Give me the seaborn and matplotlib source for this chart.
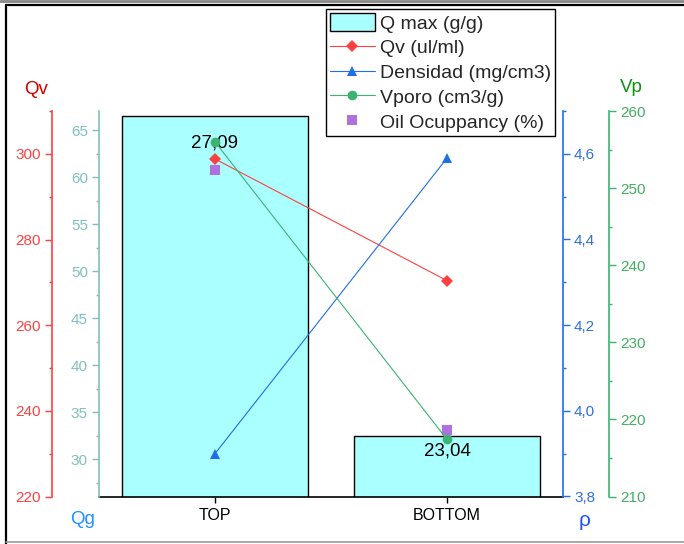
import numpy as np
import seaborn as sns
import matplotlib.pyplot as plt
from matplotlib.lines import Line2D
from matplotlib.patches import Patch
from matplotlib.ticker import MultipleLocator, FuncFormatter

zones = ['TOP', 'BOTTOM']
qmax = [27.09, 23.04]          # Q max (g/g), bars
qv = [298.8, 270.4]            # Qv (ul/ml)
densidad = [3.90, 4.59]        # Densidad (mg/cm3)
vporo = [256.0, 217.4]         # Vporo (cm3/g)
oil = [60.8, 33.1]             # Oil Ocuppancy (%)

RED = '#ff4040'
TEAL = '#80c0c0'
BLUE = '#1f6fe8'
GREEN = '#3cb371'
PURPLE = '#b070e0'
BARC = '#aaffff'


def comma(v, pos=None, nd=1):
    return f'{v:.{nd}f}'.replace('.', ',')


def style_axis(ax, side, pos, color, lab_color, major, minor, fmt=None):
    for s in ['left', 'right', 'top', 'bottom']:
        ax.spines[s].set_visible(False)
    sp = ax.spines[side]
    sp.set_visible(True)
    sp.set_position(('axes', pos))
    sp.set_color(color)
    sp.set_linewidth(1.2)
    if side == 'left':
        ax.yaxis.tick_left()
    else:
        ax.yaxis.tick_right()
    ax.yaxis.set_major_locator(MultipleLocator(major))
    ax.yaxis.set_minor_locator(MultipleLocator(minor))
    ax.tick_params(axis='y', which='major', colors=color, labelcolor=lab_color,
                   length=5, width=1, direction='out', labelsize=11, pad=3)
    ax.tick_params(axis='y', which='minor', colors=color, length=2.5, width=1,
                   direction='out')
    if fmt is not None:
        ax.yaxis.set_major_formatter(FuncFormatter(fmt))
    ax.set_ylabel('')
    ax.set_xlabel('')


sns.set_style('ticks')
plt.rcParams['font.family'] = ['Liberation Sans', 'DejaVu Sans']

fig = plt.figure(figsize=(6.84, 5.44), dpi=100)
ax0 = fig.add_axes([99 / 684, 47.5 / 544, 464 / 684, 385.5 / 544])
xpos = np.arange(len(zones))

# bars
sns.barplot(x=zones, y=qmax, ax=ax0, color=BARC, saturation=1,
            edgecolor='black', linewidth=1, width=0.8)
ax0.set_ylim(22.276, 27.153)
for s in ['left', 'right', 'top']:
    ax0.spines[s].set_visible(False)
ax0.spines['bottom'].set_color('black')
ax0.spines['bottom'].set_linewidth(1.2)
ax0.set_yticks([])
offsets = [-19.5, -11]
for i, v in enumerate(qmax):
    ax0.annotate(comma(v, nd=2), (xpos[i], v), xytext=(0, offsets[i]),
                 textcoords='offset points', ha='center', va='center',
                 fontsize=13.5, color='black', zorder=5)

# Qg axis (oil occupancy)
axqg = ax0.twinx()
sns.scatterplot(x=xpos, y=oil, ax=axqg, marker='s', color=PURPLE, s=45,
                linewidth=0, zorder=4)
axqg.set_ylim(26.05, 67.02)
style_axis(axqg, 'left', 0, TEAL, TEAL, 5, 2.5, fmt=lambda v, p: f'{v:.0f}')

# Qv axis
axqv = ax0.twinx()
sns.lineplot(x=xpos, y=qv, ax=axqv, color=RED, marker='D', markersize=6.5,
             markeredgewidth=0, linewidth=0.8)
axqv.set_ylim(220, 310)
style_axis(axqv, 'left', -47 / 464, RED, RED, 20, 10, fmt=lambda v, p: f'{v:.0f}')

# densidad axis
axr = ax0.twinx()
sns.lineplot(x=xpos, y=densidad, ax=axr, color=BLUE, marker='^', markersize=7,
             markeredgewidth=0, linewidth=0.8)
axr.set_ylim(3.8, 4.7)
style_axis(axr, 'right', 1, BLUE, '#3070e0', 0.2, 0.1, fmt=comma)

# Vporo axis
axvp = ax0.twinx()
sns.lineplot(x=xpos, y=vporo, ax=axvp, color=GREEN, marker='o', markersize=7,
             markeredgewidth=0, linewidth=0.8)
axvp.set_ylim(210, 260)
style_axis(axvp, 'right', 1 + 46 / 464, GREEN, '#40b060', 10, 5,
           fmt=lambda v, p: f'{v:.0f}')

ax0.set_xlim(-0.5, 1.5)
ax0.set_xticks(xpos)
ax0.set_xticklabels(zones)
ax0.tick_params(axis='x', length=4, width=1, colors='black', labelsize=11.5, pad=4)
ax0.set_xlabel('')
ax0.set_ylabel('')

# axis titles
fig.text(36 / 684, 1 - 90 / 544, 'Qv', color='#cc0000', fontsize=13.5,
         ha='center', va='center')
fig.text(83 / 684, 1 - 520 / 544, 'Qg', color='#1e90ff', fontsize=13.5,
         ha='center', va='center')
fig.text(585 / 684, 1 - 520 / 544, 'ρ', color='#2050ff', fontsize=15,
         ha='center', va='center')
fig.text(631 / 684, 1 - 88 / 544, 'Vp', color='#109010', fontsize=13.5,
         ha='center', va='center')

# legend
handles = [
    Patch(facecolor=BARC, edgecolor='black', linewidth=1),
    Line2D([], [], color=RED, marker='D', markersize=6.5, markeredgewidth=0, lw=0.8),
    Line2D([], [], color=BLUE, marker='^', markersize=7, markeredgewidth=0, lw=0.8),
    Line2D([], [], color=GREEN, marker='o', markersize=7, markeredgewidth=0, lw=0.8),
    Line2D([], [], color=PURPLE, marker='s', markersize=6.5, markeredgewidth=0, lw=0),
]
labels = ['Q max (g/g)', 'Qv (ul/ml)', 'Densidad (mg/cm3)', 'Vporo (cm3/g)',
          'Oil Ocuppancy (%)']
leg = fig.legend(handles, labels, loc='upper left',
                 bbox_to_anchor=(326 / 684, 1 - 9 / 544), fontsize=14,
                 frameon=True, fancybox=False, edgecolor='black', framealpha=1,
                 borderpad=0.2, handlelength=2.3, handleheight=1.05,
                 handletextpad=0.3, labelspacing=0.27, borderaxespad=0)
leg.get_frame().set_linewidth(1)

# outer frame
fig.add_artist(Line2D([0, 1], [1 - 1 / 544, 1 - 1 / 544], color='#888888', lw=2))
fig.add_artist(Line2D([6 / 684, 1], [1 - 5 / 544, 1 - 5 / 544], color='black', lw=1.6))
fig.add_artist(Line2D([6 / 684, 6 / 684], [0, 1 - 5 / 544], color='black', lw=1.6))
fig.add_artist(Line2D([6 / 684, 1], [2 / 544, 2 / 544], color='#999999', lw=1.2))

fig.savefig('out.png', dpi=100)
